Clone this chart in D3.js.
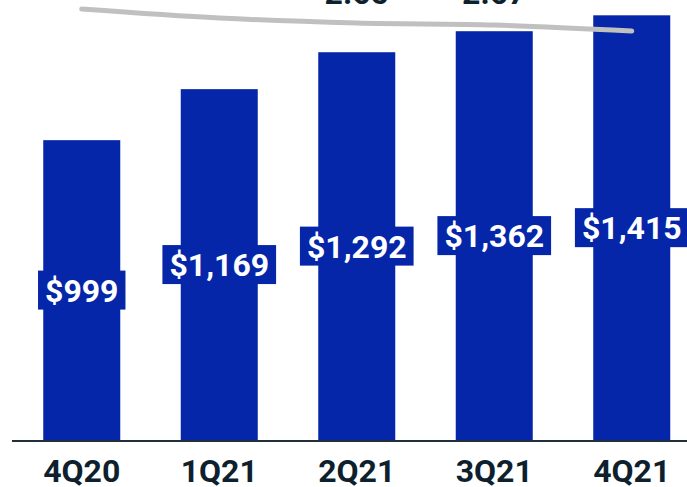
<!DOCTYPE html>
<html>
<head>
<meta charset="utf-8">
<script src="https://cdnjs.cloudflare.com/ajax/libs/d3/7.8.5/d3.min.js"></script>
<style>
  body { margin: 0; background: #fff; }
  svg { display: block; font-family: Roboto, "Noto Sans", sans-serif; }
</style>
</head>
<body>
<div id="chart-area"></div>
<script>
// quarters and revenue ($M)
var quarters = ["4Q20", "1Q21", "2Q21", "3Q21", "4Q21"];
var revenue = [999, 1169, 1292, 1362, 1415];

// grey ratio line (only the bottom of two labels shows)
var ratio = [2.51, 2.60, 2.65, 2.67, 2.73];
var ratioLabels = ["", "", "2.65", "2.67", ""];

var width = 687,
    height = 487,
    baseline = 440;

var barColor = "#0526a8",
    inkColor = "#0e1f2e";

var svg = d3.select("#chart-area")
    .append("svg")
    .attr("width", width)
    .attr("height", height);

var x = d3.scaleBand()
    .domain(quarters)
    .range([13, 700.5])
    .paddingInner(0.44)
    .paddingOuter(0.22);

var y = d3.scaleLinear()
    .domain([0, 1466])
    .range([baseline, 0]);

// ratio axis runs downward
var y2 = d3.scaleLinear()
    .domain([2.5, 2.75])
    .range([8, 33]);

// bars
svg.selectAll(".bar")
    .data(revenue)
    .enter().append("rect")
    .attr("class", "bar")
    .attr("x", function(d, i) { return x(quarters[i]); })
    .attr("y", function(d) { return y(d); })
    .attr("width", x.bandwidth())
    .attr("height", function(d) { return baseline - y(d); })
    .style("fill", barColor);

// value labels at bar middle, boxed
var lab = svg.selectAll(".val")
    .data(revenue)
    .enter().append("g")
    .attr("class", "val")
    .attr("transform", function(d, i) {
        var cx = x(quarters[i]) + x.bandwidth() / 2;
        var cy = (y(d) + baseline) / 2;
        return "translate(" + cx + "," + cy + ")";
    });

var box = lab.append("rect").style("fill", barColor);

var txt = lab.append("text")
    .attr("text-anchor", "middle")
    .attr("dy", "0.36em")
    .style("font-size", "32px")
    .style("font-weight", "bold")
    .style("fill", "#fff")
    .text(function(d) { return "$" + d3.format(",")(d); });

txt.each(function(d, i) {
    var w = this.getComputedTextLength() + 14;
    d3.select(box.nodes()[i])
        .attr("x", -w / 2)
        .attr("y", -19.5)
        .attr("width", w)
        .attr("height", 39);
});

// baseline axis
svg.append("line")
    .attr("x1", 12).attr("x2", width)
    .attr("y1", baseline + 1).attr("y2", baseline + 1)
    .style("stroke", "#1f2f3c")
    .style("stroke-width", 2);

svg.selectAll(".cat")
    .data(quarters)
    .enter().append("text")
    .attr("class", "cat")
    .attr("x", function(d) { return x(d) + x.bandwidth() / 2; })
    .attr("y", 482)
    .attr("text-anchor", "middle")
    .style("font-size", "32px")
    .style("font-weight", "bold")
    .style("fill", inkColor)
    .text(function(d) { return d; });

// grey line
var line = d3.line()
    .x(function(d, i) { return x(quarters[i]) + x.bandwidth() / 2; })
    .y(function(d) { return y2(d); })
    .curve(d3.curveMonotoneX);

svg.append("path")
    .datum(ratio)
    .attr("d", line)
    .style("fill", "none")
    .style("stroke", "#c0c0c0")
    .style("stroke-width", 5)
    .style("stroke-linecap", "round");

svg.selectAll(".rlab")
    .data(ratioLabels)
    .enter().append("text")
    .attr("class", "rlab")
    .attr("x", function(d, i) { return x(quarters[i]) + x.bandwidth() / 2; })
    .attr("y", 4)
    .attr("text-anchor", "middle")
    .style("font-size", "32px")
    .style("font-weight", "bold")
    .style("fill", inkColor)
    .text(function(d) { return d; });
</script>
</body>
</html>
